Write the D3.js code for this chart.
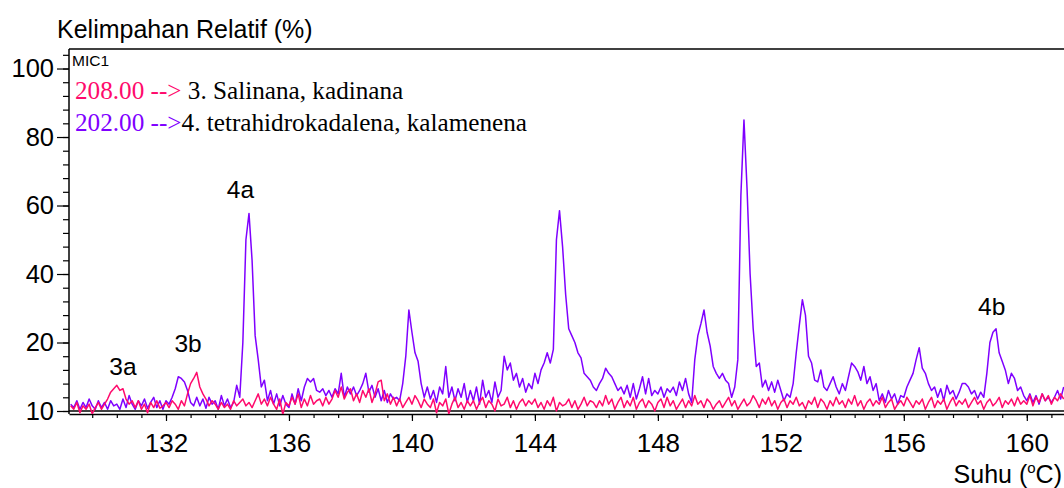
<!DOCTYPE html>
<html>
<head>
<meta charset="utf-8">
<script src="https://cdn.jsdelivr.net/npm/d3@7"></script>
<style>
  body { margin: 0; background: #fff; }
  svg { display: block; }
  .tick text { font-family: "Liberation Sans", Arial, sans-serif; }
</style>
</head>
<body>
<div id="chart"></div>
<script>
// sampling of the trace (degrees C)
const sampleStart = 128.9;
const sampleStep = 0.1;

// ion 202.00 (purple), one value per 0.1 C, starting at 128.9
const ion202 = [
  2,
  1, 3, 0.5, 2.5, 1, 3.5, 1.5, 0.5, 3, 1,          // 129
  2.5, 0.5, 3, 1.5, 2, 0.5, 3.5, 1, 4.5, 2,        // 130
  0.5, 3, 1.5, 3.5, 0.8, 2.5, 4, 1, 3, 0.5,        // 131
  3, 2, 4, 6.5, 10, 9.5, 8.5, 6, 2.5, 1.5,         // 132
  4, 1.5, 3.5, 0.8, 4, 2, 3, 0.5, 4.5, 1.5,        // 133
  3.5, 1, 2.5, 7.5, 4, 20, 50, 57.7, 44, 22,       // 134
  15, 7, 9, 3, 6, 2, 5, 1.5, 4.5, 2,               // 135
  1, 5, 2, 6.5, 3, 7, 9.5, 8.5, 9.5, 6,            // 136
  5.5, 6.5, 4.5, 6, 4, 6.5, 5, 11, 4, 7,           // 137
  5, 7, 4.5, 6, 8, 11, 5.5, 7.5, 4, 6.5,           // 138
  3, 6, 2.5, 5, 3.5, 4, 3, 8, 16, 29.5,            // 139
  23, 17, 14.5, 8, 4, 7, 3.5, 6, 2.5, 7,           // 140
  5, 13, 4, 7, 3, 6.5, 4, 8, 2.5, 6,               // 141
  3, 7, 2, 9, 4, 6, 2.5, 8.5, 4, 6,                // 142
  16, 12, 14, 9, 11, 7, 9.5, 5.5, 8, 6.5,          // 143
  11, 8, 12, 14, 17, 14, 18, 50, 58.5, 48,         // 144
  34, 24, 22, 20, 17, 15.5, 11, 10, 9, 7,          // 145
  6, 8, 9.5, 12.5, 11, 10, 8, 6, 7, 5,             // 146
  7.5, 4, 8, 3.5, 6.5, 10, 5, 9.5, 4.5, 6,         // 147
  5, 7, 4, 6.5, 5.5, 7, 4.5, 8.5, 6, 9.5,          // 148
  5, 2.5, 15, 22, 25.5, 29.5, 23, 19, 13, 11,      // 149
  9.5, 11, 9, 8, 4, 7, 15, 63, 85, 65,             // 150
  40, 24, 13, 14, 7, 9, 6, 8.5, 5.5, 9,            // 151
  6, 3, 5, 4, 8, 17, 25, 32.5, 28, 16,             // 152
  14, 9, 8.5, 12, 7, 6, 8, 10, 7, 5,               // 153
  8, 6, 10, 14, 13, 11.5, 9, 13, 8, 10,            // 154
  6, 8, 3, 5, 2.5, 6, 3.5, 5, 2, 4.5,              // 155
  4, 7, 9, 11, 15, 18.5, 12.5, 11, 8, 6,           // 156
  7, 4, 6.5, 3, 7.5, 5, 6, 3.5, 5.5, 8,            // 157
  8, 7, 5, 6, 3.5, 5.5, 4, 11, 20, 23,             // 158
  24, 17, 14.5, 12, 8, 11, 9.5, 6, 7, 4.5,         // 159
  3, 5, 2.5, 4.5, 2, 5, 3, 4, 2.5, 4,              // 160
  6, 3.5, 7                                        // 161
];

// ion 208.00 (pink), same sampling
const ion208 = [
  1.5,
  0.5, 2.5, -0.5, 1.5, 0.5, 2, -0.8, 1, 2.5, 0.5,  // 129
  2, 3.5, 5.5, 6.5, 7.5, 6, 6.5, 3.5, 2, 3,        // 130
  1, 3, 0.5, 2, -0.5, 2.5, 1, 3, 0.8, 1.5,         // 131
  2.5, 1, 3, 2, 0.5, 3, 1.5, 5, 8, 9.5,            // 132
  11.3, 7, 5, 3.5, 1.5, 3, 2, 0.5, 2.5, 1,         // 133
  2, 0.5, 3, 1.5, 2.5, 3.5, 1.5, 2.5, 1, 3,        // 134
  5, 2, 3.5, 1.5, 4, 2, 0.5, 3.5, -1, 2.5,         // 135
  1.5, 4, 2, 5, 1, 3.5, 1.5, 4.5, 2, 3,            // 136
  3.5, 1.5, 4, 2, 3.5, 6, 4, 7, 3.5, 5.5,          // 137
  6.5, 3, 5, 2.5, 6, 4, 6.5, 2.5, 5, 8.5,          // 138
  9, 3, 5, 2, 4, 1.5, 3.5, 1, 2.5, 4,              // 139
  2, 4.5, 3, 1, 3.5, 2, 1, 3.5, -0.5, 2.5,         // 140
  1.5, 3.5, -0.8, 2, 4, 1, 2.5, 0.5, 3, 1.5,       // 141
  3, 0.5, 2.5, 4, 1, 3, 2, 0, 3.5, 1.5,            // 142
  2, 4, 1, 3, 0.5, 2.5, 3.5, 1.5, 3, 2,            // 143
  3.5, 1, 2.5, 0.5, 3, 1.5, 4, 0, 2.5, 1.5,        // 144
  2, 3.5, 1, 3, 0.5, 2, 4, 1.5, 3, 2.5,            // 145
  1, 3, 1.5, 4.5, 2, 3.5, 0.5, 2.5, 4, 1,          // 146
  3, 1.5, 4, 0.5, 2.5, 3.5, 1, 3, 2, 0,            // 147
  2.5, 3.5, 1, 4, 1.5, 3, 0.5, 2, 3.5, 1,          // 148
  3, 1.5, 4.5, 2, 3, 1, 3.5, 2.5, 0.5, 2,          // 149
  3, 1, 2.5, 4, 1.5, 3, 0.5, 2, 3.5, 1.5,          // 150
  2.5, 4.5, 3, 1, 3.5, 2, 4, 1.5, 3, 0.5,          // 151
  2.5, 3.5, 1, 3, 2, 4, 1.5, 2.5, 0.5, 3,          // 152
  2, 4, 1, 3.5, 2.5, 0.5, 3, 1.5, 4, 2,            // 153
  3, 1, 3.5, 2, 4.5, 1.5, 3, 0.5, 2.5, 3.5,        // 154
  1.5, 3, 2, 4, 1, 2.5, 3.5, 0.5, 2, 3,            // 155
  1.5, 4, 2.5, 1, 3, 2, 3.5, 0.5, 2.5, 4,          // 156
  1, 3, 2, 3.5, 0.5, 2.5, 4, 1.5, 3, 2,            // 157
  3.5, 1, 2.5, 4, 2, 3, 0.5, 2.5, 3.5, 1.5,        // 158
  2.5, 4, 1, 3, 2, 3.5, 1.5, 4, 2, 3,              // 159
  2, 4.5, 1.5, 4, 2.5, 5, 3, 4.5, 2, 4,            // 160
  3, 5, 3.5                                        // 161
];

const xTicks = [132, 136, 140, 144, 148, 152, 156, 160];
const xMinorTicks = d3.range(129.6, 161.3, 0.8).map(d => +d.toFixed(1));
const yTicks = [0, 20, 40, 60, 80, 100];
const yTickLabels = ["10", "20", "40", "60", "80", "100"];
const yMinorTicks = d3.range(0, 105, 4);

const peakLabels = [
  { text: "3a", t: 130.6, v: 10.5 },
  { text: "3b", t: 132.72, v: 17.2 },
  { text: "4a", t: 134.42, v: 62.2 },
  { text: "4b", t: 158.86, v: 28 }
];

const legendRows = [
  { ion: "208.00 -->", name: " 3. Salinana, kadinana", color: "#ff0a6c" },
  { ion: "202.00 -->", name: "4. tetrahidrokadalena, kalamenena", color: "#7f00ff" }
];

const width = 1064, height = 488;
const margin = { top: 49, right: 0, bottom: 77, left: 69 };

const svg = d3.select("#chart").append("svg")
  .attr("width", width)
  .attr("height", height);

const x = d3.scaleLinear()
  .domain([128.845, 161.21])
  .range([margin.left, width - margin.right]);

const y = d3.scaleLinear()
  .domain([0, 105.7])
  .range([411, margin.top]);

const axisY = 414;
const sans = "'Liberation Sans', Arial, sans-serif";

// frame top
svg.append("line")
  .attr("x1", margin.left).attr("x2", width)
  .attr("y1", margin.top).attr("y2", margin.top)
  .attr("stroke", "#000").attr("stroke-width", 1.5);

// left axis line
svg.append("line")
  .attr("x1", margin.left).attr("x2", margin.left)
  .attr("y1", margin.top).attr("y2", axisY)
  .attr("stroke", "#000").attr("stroke-width", 1.5);

// zero line
svg.append("line")
  .attr("x1", margin.left).attr("x2", width)
  .attr("y1", y(0)).attr("y2", y(0))
  .attr("stroke", "#000").attr("stroke-width", 1.3);

// y axis
const yAxis = svg.append("g")
  .attr("transform", `translate(${margin.left},0)`)
  .call(d3.axisLeft(y).tickValues(yTicks)
    .tickFormat((d, i) => yTickLabels[i])
    .tickSize(12).tickPadding(3).tickSizeOuter(0));
yAxis.select(".domain").remove();
yAxis.selectAll("text").attr("font-size", 25.5).attr("fill", "#000");
yAxis.selectAll("line").attr("stroke-width", 1.2);

const yMinor = svg.append("g")
  .attr("transform", `translate(${margin.left},0)`)
  .call(d3.axisLeft(y).tickValues(yMinorTicks).tickFormat("").tickSize(6).tickSizeOuter(0));
yMinor.select(".domain").remove();
yMinor.selectAll("line").attr("stroke-width", 1.2);

// x axis
const xAxis = svg.append("g")
  .attr("transform", `translate(0,${axisY})`)
  .call(d3.axisBottom(x).tickValues(xTicks).tickSize(7).tickPadding(13).tickSizeOuter(0));
xAxis.select(".domain").attr("stroke-width", 1.5);
xAxis.selectAll("text").attr("font-size", 26).attr("fill", "#000");
xAxis.selectAll("line").attr("stroke-width", 1.2);

const xMinor = svg.append("g")
  .attr("transform", `translate(0,${axisY})`)
  .call(d3.axisBottom(x).tickValues(xMinorTicks).tickFormat("").tickSize(4).tickSizeOuter(0));
xMinor.select(".domain").remove();
xMinor.selectAll("line").attr("stroke-width", 1.2);

// traces
svg.append("clipPath").attr("id", "plot-clip")
  .append("rect")
  .attr("x", margin.left + 1).attr("y", margin.top)
  .attr("width", width - margin.left).attr("height", axisY - margin.top);

const line = d3.line()
  .x((d, i) => x(sampleStart + i * sampleStep))
  .y(d => y(d));

const traces = svg.append("g").attr("clip-path", "url(#plot-clip)");
traces.append("path")
  .datum(ion202)
  .attr("fill", "none")
  .attr("stroke", "#7f00ff")
  .attr("stroke-width", 1.5)
  .attr("stroke-linejoin", "round")
  .attr("d", line);
traces.append("path")
  .datum(ion208)
  .attr("fill", "none")
  .attr("stroke", "#ff0a6c")
  .attr("stroke-width", 1.5)
  .attr("stroke-linejoin", "round")
  .attr("d", line);

// peak labels
svg.selectAll(".peak")
  .data(peakLabels)
  .enter()
  .append("text")
  .attr("class", "peak")
  .attr("x", d => x(d.t))
  .attr("y", d => y(d.v))
  .attr("text-anchor", "middle")
  .attr("font-family", sans)
  .attr("font-size", 24.5)
  .text(d => d.text);

// titles
svg.append("text")
  .attr("x", 57).attr("y", 38)
  .attr("font-family", sans)
  .attr("font-size", 25)
  .text("Kelimpahan Relatif (%)");

const xLabel = svg.append("text")
  .attr("x", 1062).attr("y", 483)
  .attr("text-anchor", "end")
  .attr("font-family", sans)
  .attr("font-size", 25);
xLabel.append("tspan").text("Suhu (");
xLabel.append("tspan").attr("font-size", 15).attr("dy", -10).text("o");
xLabel.append("tspan").attr("dy", 10).text("C)");

svg.append("text")
  .attr("x", 72).attr("y", 66)
  .attr("font-family", sans)
  .attr("font-size", 15.5)
  .text("MIC1");

// legend
const legend = svg.selectAll(".legend")
  .data(legendRows)
  .enter()
  .append("text")
  .attr("class", "legend")
  .attr("x", 75)
  .attr("y", (d, i) => 99 + i * 31.5)
  .attr("font-family", "'Liberation Serif', 'Times New Roman', serif")
  .attr("font-size", 25.2);
legend.append("tspan").attr("fill", d => d.color).text(d => d.ion);
legend.append("tspan").attr("fill", "#000").text(d => d.name);
</script>
</body>
</html>
